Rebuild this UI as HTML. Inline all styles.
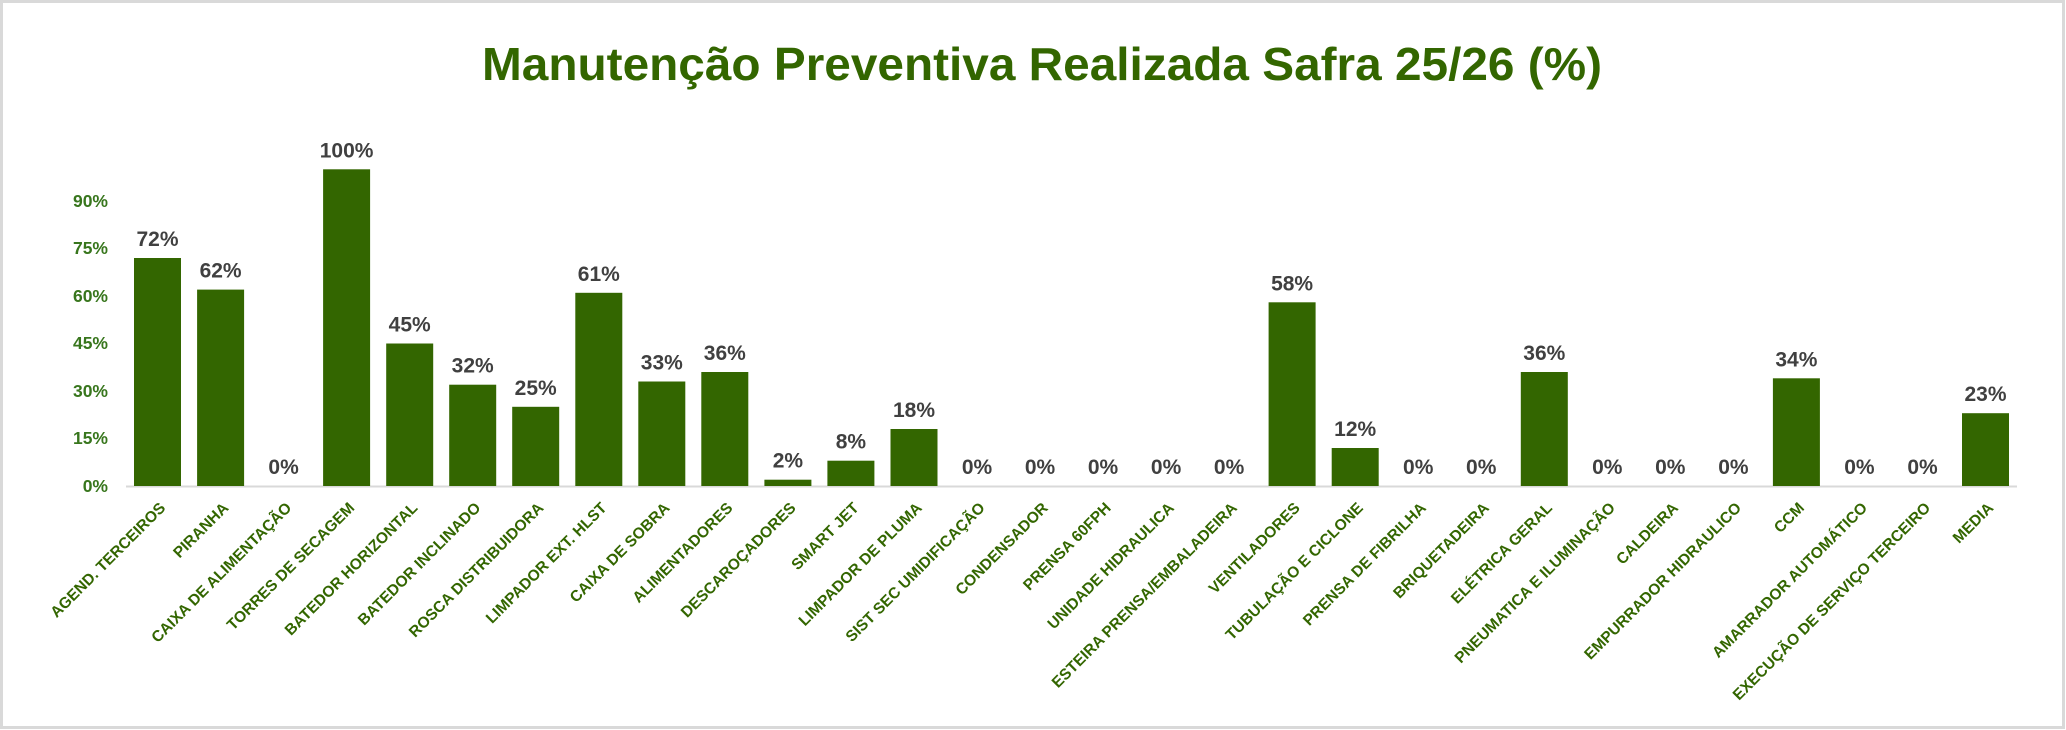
<!DOCTYPE html>
<html><head><meta charset="utf-8"><style>
html,body{margin:0;padding:0;background:#fff}
svg{display:block}
text{font-family:"Liberation Sans",sans-serif;font-weight:bold}
</style></head><body>
<svg width="2066" height="730" xmlns="http://www.w3.org/2000/svg">
<rect x="1.5" y="1.5" width="2062" height="726" fill="#fff" stroke="#d9d9d9" stroke-width="3"/>
<text x="482" y="80" font-size="46" fill="#336600" textLength="1120" lengthAdjust="spacingAndGlyphs">Manutenção Preventiva Realizada Safra 25/26 (%)</text>
<g font-size="17.5" fill="#38761d" text-anchor="end">
<text x="108" y="492">0%</text>
<text x="108" y="444">15%</text>
<text x="108" y="397">30%</text>
<text x="108" y="349">45%</text>
<text x="108" y="302">60%</text>
<text x="108" y="254">75%</text>
<text x="108" y="207">90%</text>
</g>
<line x1="126" y1="486.5" x2="2017" y2="486.5" stroke="#d9d9d9" stroke-width="2"/>
<g fill="#336600">
<rect x="134" y="258" width="47" height="228"/>
<rect x="197.1" y="289.6" width="47" height="196.4"/>
<rect x="323.1" y="169.3" width="47" height="316.7"/>
<rect x="386.2" y="343.5" width="47" height="142.5"/>
<rect x="449.2" y="384.7" width="47" height="101.3"/>
<rect x="512.2" y="406.8" width="47" height="79.2"/>
<rect x="575.3" y="292.8" width="47" height="193.2"/>
<rect x="638.3" y="381.5" width="47" height="104.5"/>
<rect x="701.3" y="372" width="47" height="114"/>
<rect x="764.4" y="479.7" width="47" height="6.3"/>
<rect x="827.4" y="460.7" width="47" height="25.3"/>
<rect x="890.5" y="429" width="47" height="57"/>
<rect x="1268.6" y="302.3" width="47" height="183.7"/>
<rect x="1331.7" y="448" width="47" height="38"/>
<rect x="1520.8" y="372" width="47" height="114"/>
<rect x="1772.9" y="378.3" width="47" height="107.7"/>
<rect x="1962" y="413.2" width="47" height="72.8"/>
</g>
<g font-size="21" fill="#404040" text-anchor="middle">
<text x="157.5" y="246">72%</text>
<text x="220.6" y="277.6">62%</text>
<text x="283.6" y="474">0%</text>
<text x="346.6" y="157.3">100%</text>
<text x="409.7" y="331.5">45%</text>
<text x="472.7" y="372.7">32%</text>
<text x="535.7" y="394.8">25%</text>
<text x="598.8" y="280.8">61%</text>
<text x="661.8" y="369.5">33%</text>
<text x="724.8" y="360">36%</text>
<text x="787.9" y="467.7">2%</text>
<text x="850.9" y="448.7">8%</text>
<text x="914" y="417">18%</text>
<text x="977" y="474">0%</text>
<text x="1040" y="474">0%</text>
<text x="1103" y="474">0%</text>
<text x="1166.1" y="474">0%</text>
<text x="1229.1" y="474">0%</text>
<text x="1292.1" y="290.3">58%</text>
<text x="1355.2" y="436">12%</text>
<text x="1418.2" y="474">0%</text>
<text x="1481.2" y="474">0%</text>
<text x="1544.3" y="360">36%</text>
<text x="1607.3" y="474">0%</text>
<text x="1670.3" y="474">0%</text>
<text x="1733.4" y="474">0%</text>
<text x="1796.4" y="366.3">34%</text>
<text x="1859.4" y="474">0%</text>
<text x="1922.5" y="474">0%</text>
<text x="1985.5" y="401.2">23%</text>
</g>
<g font-size="15.5" fill="#336600" text-anchor="end">
<text transform="translate(158.5,501) rotate(-45)" dy="11">AGEND. TERCEIROS</text>
<text transform="translate(221.6,501) rotate(-45)" dy="11">PIRANHA</text>
<text transform="translate(284.6,501) rotate(-45)" dy="11">CAIXA DE ALIMENTAÇÃO</text>
<text transform="translate(347.6,501) rotate(-45)" dy="11">TORRES DE SECAGEM</text>
<text transform="translate(410.7,501) rotate(-45)" dy="11">BATEDOR HORIZONTAL</text>
<text transform="translate(473.7,501) rotate(-45)" dy="11">BATEDOR INCLINADO</text>
<text transform="translate(536.7,501) rotate(-45)" dy="11">ROSCA DISTRIBUIDORA</text>
<text transform="translate(599.8,501) rotate(-45)" dy="11">LIMPADOR EXT. HLST</text>
<text transform="translate(662.8,501) rotate(-45)" dy="11">CAIXA DE SOBRA</text>
<text transform="translate(725.8,501) rotate(-45)" dy="11">ALIMENTADORES</text>
<text transform="translate(788.9,501) rotate(-45)" dy="11">DESCAROÇADORES</text>
<text transform="translate(851.9,501) rotate(-45)" dy="11">SMART JET</text>
<text transform="translate(915,501) rotate(-45)" dy="11">LIMPADOR DE PLUMA</text>
<text transform="translate(978,501) rotate(-45)" dy="11">SIST SEC UMIDIFICAÇÃO</text>
<text transform="translate(1041,501) rotate(-45)" dy="11">CONDENSADOR</text>
<text transform="translate(1104,501) rotate(-45)" dy="11">PRENSA 60FPH</text>
<text transform="translate(1167.1,501) rotate(-45)" dy="11">UNIDADE HIDRAULICA</text>
<text transform="translate(1230.1,501) rotate(-45)" dy="11">ESTEIRA PRENSA/EMBALADEIRA</text>
<text transform="translate(1293.1,501) rotate(-45)" dy="11">VENTILADORES</text>
<text transform="translate(1356.2,501) rotate(-45)" dy="11">TUBULAÇÃO E CICLONE</text>
<text transform="translate(1419.2,501) rotate(-45)" dy="11">PRENSA DE FIBRILHA</text>
<text transform="translate(1482.2,501) rotate(-45)" dy="11">BRIQUETADEIRA</text>
<text transform="translate(1545.3,501) rotate(-45)" dy="11">ELÉTRICA GERAL</text>
<text transform="translate(1608.3,501) rotate(-45)" dy="11">PNEUMATICA E ILUMINAÇÃO</text>
<text transform="translate(1671.3,501) rotate(-45)" dy="11">CALDEIRA</text>
<text transform="translate(1734.4,501) rotate(-45)" dy="11">EMPURRADOR HIDRAULICO</text>
<text transform="translate(1797.4,501) rotate(-45)" dy="11">CCM</text>
<text transform="translate(1860.4,501) rotate(-45)" dy="11">AMARRADOR AUTOMÁTICO</text>
<text transform="translate(1923.5,501) rotate(-45)" dy="11">EXECUÇÃO DE SERVIÇO TERCEIRO</text>
<text transform="translate(1986.5,501) rotate(-45)" dy="11">MEDIA</text>
</g>
</svg>
</body></html>
